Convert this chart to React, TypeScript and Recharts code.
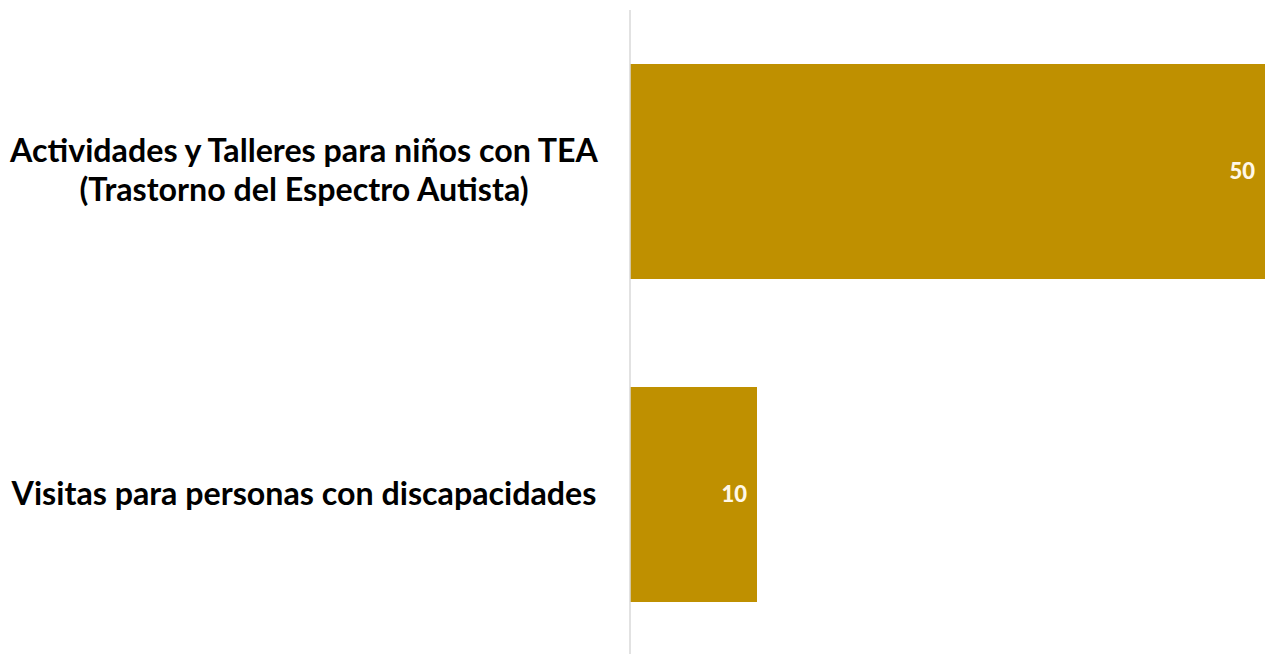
import { Bar, BarChart, LabelList, XAxis, YAxis } from 'recharts'

const categories = [
  'Actividades y Talleres para niños con TEA\n(Trastorno del Espectro Autista)',
  'Visitas para personas con discapacidades',
]
const values = [50, 10]

const data = categories.map((name, i) => ({ name, value: values[i] }))

const FONT = 'Lato, "Open Sans", sans-serif'

function CategoryTick({ y, payload }: any) {
  const lines: string[] = String(payload.value).split('\n')
  const lineHeight = 39
  const startDy = -((lines.length - 1) * lineHeight) / 2 + 10
  return (
    <text
      x={304}
      y={y}
      textAnchor="middle"
      fontFamily={FONT}
      fontWeight={700}
      fontSize={32.2}
      fill="#000"
    >
      {lines.map((line, i) => (
        <tspan key={i} x={304} dy={i === 0 ? startDy : lineHeight}>
          {line}
        </tspan>
      ))}
    </text>
  )
}

export default function App() {
  return (
    <div style={{ position: 'absolute', left: 0, top: 0, background: '#fff' }}>
      <BarChart
        width={1265}
        height={654}
        data={data}
        layout="vertical"
        margin={{ top: 10, right: 0, bottom: -2, left: 0 }}
        barCategoryGap="16.7%"
      >
        <XAxis type="number" domain={[0, 50]} hide />
        <YAxis
          type="category"
          dataKey="name"
          width={630}
          tickLine={false}
          axisLine={{ stroke: '#d9d9d9', strokeWidth: 1.5 }}
          tick={<CategoryTick />}
        />
        <Bar dataKey="value" fill="#BF9000" isAnimationActive={false}>
          <LabelList
            dataKey="value"
            position="insideRight"
            offset={10}
            fill="#fff8e8"
            fontFamily={FONT}
            fontWeight={900}
            fontSize={22}
          />
        </Bar>
      </BarChart>
    </div>
  )
}
